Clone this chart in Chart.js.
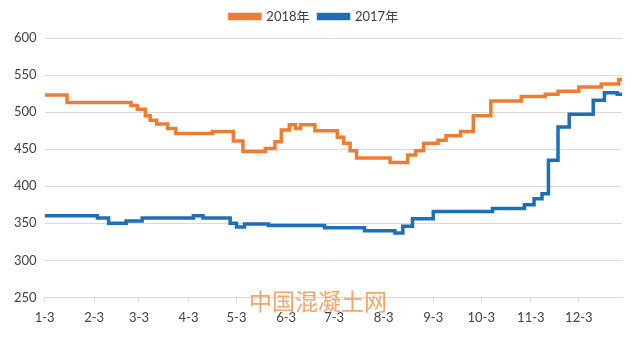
<!DOCTYPE html>
<html>
<head>
<meta charset="utf-8">
<script src="https://cdn.jsdelivr.net/npm/chart.js@4"></script>
<style>
  body { margin: 0; background: #fff; }
  #wrap { width: 636px; height: 346px; position: relative; }
</style>
</head>
<body>
<div id="wrap"><canvas id="priceChart"></canvas></div>
<script>
// x values are days counted from Jan 3
const tickDays = [0, 31, 59, 90, 120, 151, 181, 212, 243, 273, 304, 334];
const tickLabels = ["1-3", "2-3", "3-3", "4-3", "5-3", "6-3", "7-3", "8-3", "9-3", "10-3", "11-3", "12-3"];

// step changes, 2018
const days2018 = [0, 14, 54, 58, 63, 66, 70, 77, 82, 105, 118, 124, 138, 144, 148, 153, 157, 160, 169, 183, 187, 191, 195, 216, 227, 232, 237, 246, 251, 260, 268, 279, 298, 313, 321, 334, 348, 359, 361];
const values2018 = [523, 513, 509, 504, 495, 489, 484, 478, 471, 474, 461, 447, 451, 460, 476, 483, 478, 483, 475, 466, 458, 448, 438, 432, 442, 448, 458, 462, 468, 474, 495, 515, 521, 524, 528, 534, 538, 544, 544];

// step changes, 2017
const days2017 = [0, 33, 40, 51, 61, 93, 99, 116, 120, 125, 140, 175, 200, 219, 224, 230, 243, 280, 300, 306, 311, 315, 321, 328, 343, 350, 358, 361];
const values2017 = [360, 357, 350, 353, 357, 360, 357, 350, 345, 349, 347, 344, 340, 337, 346, 356, 366, 370, 375, 383, 390, 435, 480, 497, 516, 526, 524, 523];

const FONT = "Lato, 'Noto Sans CJK SC', sans-serif";

function toPoints(days, values) {
    return days.map((d, i) => ({ x: d, y: values[i] }));
}

// watermark text
const watermark = {
    id: "watermark",
    afterDraw(chart) {
        const ctx = chart.ctx;
        ctx.save();
        ctx.font = "23px 'Noto Sans CJK SC', sans-serif";
        ctx.fillStyle = "rgba(240, 150, 80, 0.85)";
        ctx.textAlign = "center";
        ctx.textBaseline = "alphabetic";
        ctx.fillText("中国混凝土网", 318, 310);
        ctx.restore();
    }
};

const canvas = document.getElementById("priceChart");
new Chart(canvas.getContext("2d"), {
    type: "line",
    data: {
        datasets: [
            {
                label: "2018年",
                data: toPoints(days2018, values2018),
                borderColor: "#ED7D31",
                backgroundColor: "#ED7D31",
                borderWidth: 3.5,
                pointRadius: 0,
                stepped: true
            },
            {
                label: "2017年",
                data: toPoints(days2017, values2017),
                borderColor: "#1F6FB6",
                backgroundColor: "#1F6FB6",
                borderWidth: 3.5,
                pointRadius: 0,
                stepped: true
            }
        ]
    },
    options: {
        responsive: true,
        maintainAspectRatio: false,
        animation: false,
        layout: { padding: { left: 6, right: 14, top: 1, bottom: 12 } },
        plugins: {
            legend: {
                position: "top",
                labels: {
                    boxWidth: 30,
                    boxHeight: 4,
                    padding: 9,
                    color: "#404040",
                    font: { family: FONT, size: 13 }
                }
            },
            tooltip: { enabled: false }
        },
        scales: {
            x: {
                type: "linear",
                min: 0,
                max: 361,
                afterBuildTicks(scale) {
                    scale.ticks = tickDays.map(v => ({ value: v }));
                },
                ticks: {
                    autoSkip: false,
                    maxRotation: 0,
                    padding: 8,
                    color: "#404040",
                    font: { family: FONT, size: 13 },
                    callback: function (value) {
                        const i = tickDays.indexOf(value);
                        return i >= 0 ? tickLabels[i] : "";
                    }
                },
                grid: {
                    drawOnChartArea: false,
                    drawTicks: true,
                    tickLength: 5,
                    color: "#d9d9d9"
                },
                border: { color: "#d9d9d9" }
            },
            // empty top axis, only used as a gap under the legend
            gap: {
                type: "linear",
                position: "top",
                axis: "x",
                grid: { display: false, drawTicks: false },
                ticks: { display: false },
                border: { display: false },
                afterFit(scale) {
                    scale.height = 5;
                }
            },
            y: {
                min: 250,
                max: 600,
                ticks: {
                    stepSize: 50,
                    padding: 8,
                    color: "#404040",
                    font: { family: FONT, size: 13 }
                },
                grid: { color: "#d9d9d9", drawTicks: false },
                border: { display: false }
            }
        }
    },
    plugins: [watermark]
});
</script>
</body>
</html>
